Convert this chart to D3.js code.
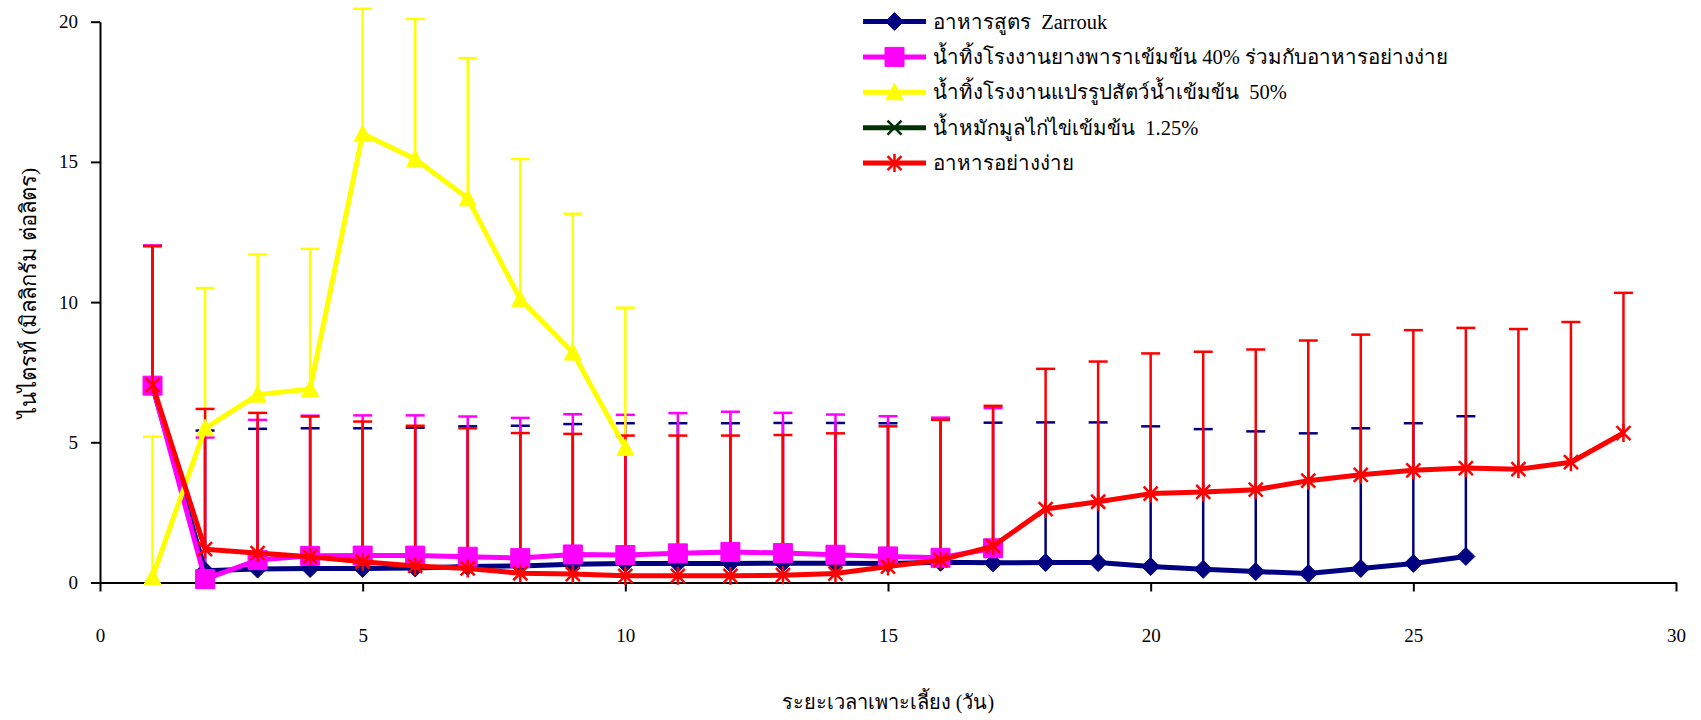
<!DOCTYPE html>
<meta charset="utf-8">
<script src="https://cdn.jsdelivr.net/npm/d3@7"></script>
<style>
body {
  margin: 0;
  background: #fff;
}
text {
  font-family: "Liberation Serif", "Times New Roman", serif;
  white-space: pre;
}
</style>
<body>
<script>

// days of culture (x values)
var days = [1, 2, 3, 4, 5, 6, 7, 8, 9, 10, 11, 12, 13, 14, 15,
            16, 17, 18, 19, 20, 21, 22, 23, 24, 25, 26, 27, 28, 29];

// nitrite (mg/L) per series, with the +SD error bar
var zarrouk   = [7.0, 0.42, 0.48, 0.5, 0.5, 0.52, 0.57, 0.59, 0.65, 0.68, 0.68, 0.68, 0.69, 0.69, 0.68,
                 0.72, 0.7, 0.71, 0.71, 0.57, 0.47, 0.39, 0.32, 0.5, 0.68, 0.93];
var zarroukSd = [5.0, 5.0, 5.0, 5.0, 5.0, 5.0, 5.0, 5.0, 5.0, 5.0, 5.0, 5.0, 5.0, 5.0, 5.0,
                 5.1, 5.0, 5.0, 5.0, 5.0, 5.0, 5.0, 5.0, 5.0, 5.0, 5.0];

var rubber    = [7.02, 0.12, 0.8, 0.95, 0.96, 0.96, 0.92, 0.87, 1.0, 0.98, 1.04, 1.09, 1.05, 0.99, 0.93,
                 0.88, 1.22];
var rubberSd  = [5.0, 5.05, 5.0, 5.0, 5.0, 5.0, 5.0, 5.0, 5.0, 5.0, 5.0, 5.0, 5.0, 5.0, 5.0,
                 5.0, 5.0];

var seafood   = [0.2, 5.5, 6.7, 6.9, 16.0, 15.1, 13.7, 10.1, 8.2, 4.8];
var seafoodSd = [5.0, 5.0, 5.0, 5.0, 4.46, 5.0, 5.0, 5.0, 4.95, 5.0];

var manure    = [];
var manureSd  = [];

var simple    = [7.05, 1.19, 1.05, 0.92, 0.74, 0.59, 0.5, 0.33, 0.3, 0.24, 0.24, 0.24, 0.26, 0.32, 0.57,
                 0.8, 1.3, 2.62, 2.88, 3.17, 3.23, 3.31, 3.63, 3.84, 4.0, 4.08, 4.04, 4.29, 5.33];
var simpleSd  = [4.95, 5.0, 5.0, 5.0, 5.0, 5.0, 5.0, 5.0, 5.0, 5.0, 5.0, 5.0, 5.0, 5.0, 5.0,
                 5.0, 5.0, 5.0, 5.0, 5.0, 5.0, 5.0, 5.0, 5.0, 5.0, 5.0, 5.0, 5.0, 5.0];

var seriesNames = [
  "อาหารสูตร  Zarrouk",
  "น้ำทิ้งโรงงานยางพาราเข้มข้น 40% ร่วมกับอาหารอย่างง่าย",
  "น้ำทิ้งโรงงานแปรรูปสัตว์น้ำเข้มข้น  50%",
  "น้ำหมักมูลไก่ไข่เข้มข้น  1.25%",
  "อาหารอย่างง่าย"
];
var seriesColors  = ["#000080", "#ff00ff", "#ffff00", "#003300", "#ff0000"];
var seriesMarkers = ["diamond", "square", "triangle", "cross", "asterisk"];

var xTicks = [0, 5, 10, 15, 20, 25, 30];
var yTicks = [0, 5, 10, 15, 20];

var xTitle = "ระยะเวลาเพาะเลี้ยง (วัน)";
var yTitle = "ไนไตรท์ (มิลลิกรัม ต่อลิตร)";

// build the series table
var values = [zarrouk, rubber, seafood, manure, simple];
var sds = [zarroukSd, rubberSd, seafoodSd, manureSd, simpleSd];
var series = seriesNames.map(function(name, i) {
  return {
    name: name,
    color: seriesColors[i],
    marker: seriesMarkers[i],
    points: values[i].map(function(v, j) {
      return {day: days[j], value: v, sd: sds[i][j]};
    })
  };
});

var width = 1701, height = 720;

var x = d3.scaleLinear().domain([0, 30]).range([100, 1676]);
var y = d3.scaleLinear().domain([0, 20]).range([582.5, 21.7]);

var svg = d3.select("body")
  .append("svg")
  .attr("width", width)
  .attr("height", height);

// marker shapes, centred on 0,0
function markerPath(type) {
  if (type == "diamond") return "M0,-9L9,0L0,9L-9,0Z";
  if (type == "square") return "M-9.5,-9.5H9.5V9.5H-9.5Z";
  if (type == "triangle") return "M0,-9L8.5,7.5H-8.5Z";
  if (type == "cross") return "M-7,-7L7,7M-7,7L7,-7";
  return "M-7,-7L7,7M-7,7L7,-7M0,-9V9";
}

function drawMarker(g, type, color) {
  var filled = (type == "diamond" || type == "square" || type == "triangle");
  g.append("path")
    .attr("d", markerPath(type))
    .attr("fill", filled ? color : "none")
    .attr("stroke", color)
    .attr("stroke-width", filled ? 1 : 2.5);
}

// error bars first (excel draws them under the lines)
series.forEach(function(s) {
  var eb = svg.append("g").attr("class", "errorbars");
  s.points.forEach(function(d) {
    eb.append("line")
      .attr("x1", x(d.day)).attr("x2", x(d.day))
      .attr("y1", y(d.value)).attr("y2", y(d.value + d.sd))
      .attr("stroke", s.color)
      .attr("stroke-width", 2.5);
    eb.append("line")
      .attr("x1", x(d.day) - 9.5).attr("x2", x(d.day) + 9.5)
      .attr("y1", y(d.value + d.sd)).attr("y2", y(d.value + d.sd))
      .attr("stroke", s.color)
      .attr("stroke-width", 2.5);
  });
});

// axes
var yAxis = svg.append("g")
  .attr("class", "y axis")
  .attr("transform", "translate(" + x(0) + ",0)")
  .call(d3.axisLeft(y).tickValues(yTicks).tickSize(9).tickSizeOuter(0).tickPadding(13));

var xAxis = svg.append("g")
  .attr("class", "x axis")
  .attr("transform", "translate(0," + y(0) + ")")
  .call(d3.axisBottom(x).tickValues(xTicks).tickSize(9).tickSizeOuter(0).tickPadding(37));

svg.selectAll(".axis")
  .attr("font-family", "Liberation Serif, serif")
  .attr("font-size", 19);
svg.selectAll(".axis path, .axis line")
  .attr("stroke", "#000")
  .attr("stroke-width", 2);
svg.selectAll(".axis text").attr("fill", "#000");

// series lines and markers
var line = d3.line()
  .x(function(d) { return x(d.day); })
  .y(function(d) { return y(d.value); });

series.forEach(function(s) {
  if (!s.points.length) return;
  svg.append("path")
    .datum(s.points)
    .attr("d", line)
    .attr("fill", "none")
    .attr("stroke", s.color)
    .attr("stroke-width", 5)
    .attr("stroke-linejoin", "round");
  s.points.forEach(function(d) {
    var g = svg.append("g")
      .attr("transform", "translate(" + x(d.day) + "," + y(d.value) + ")");
    drawMarker(g, s.marker, s.color);
  });
});

// legend
var legend = svg.selectAll(".legend")
  .data(series)
  .enter().append("g")
  .attr("class", "legend")
  .attr("transform", function(d, i) {
    return "translate(863," + (21.5 + i * 35.4) + ")";
  });
legend.append("line")
  .attr("x1", 0).attr("x2", 63)
  .attr("stroke", function(d) { return d.color; })
  .attr("stroke-width", 5);
legend.each(function(d) {
  var g = d3.select(this).append("g").attr("transform", "translate(31.5,0)");
  drawMarker(g, d.marker, d.color);
});
legend.append("text")
  .attr("x", 70)
  .attr("dy", "0.35em")
  .attr("font-size", 20.5)
  .text(function(d) { return d.name; });

// axis titles
svg.append("text")
  .attr("x", (x(0) + x(30)) / 2)
  .attr("y", 709)
  .attr("text-anchor", "middle")
  .attr("font-size", 20)
  .text(xTitle);

svg.append("text")
  .attr("transform", "translate(36," + 293 + ") rotate(-90)")
  .attr("text-anchor", "middle")
  .attr("font-size", 22)
  .text(yTitle);

</script>
</body>
